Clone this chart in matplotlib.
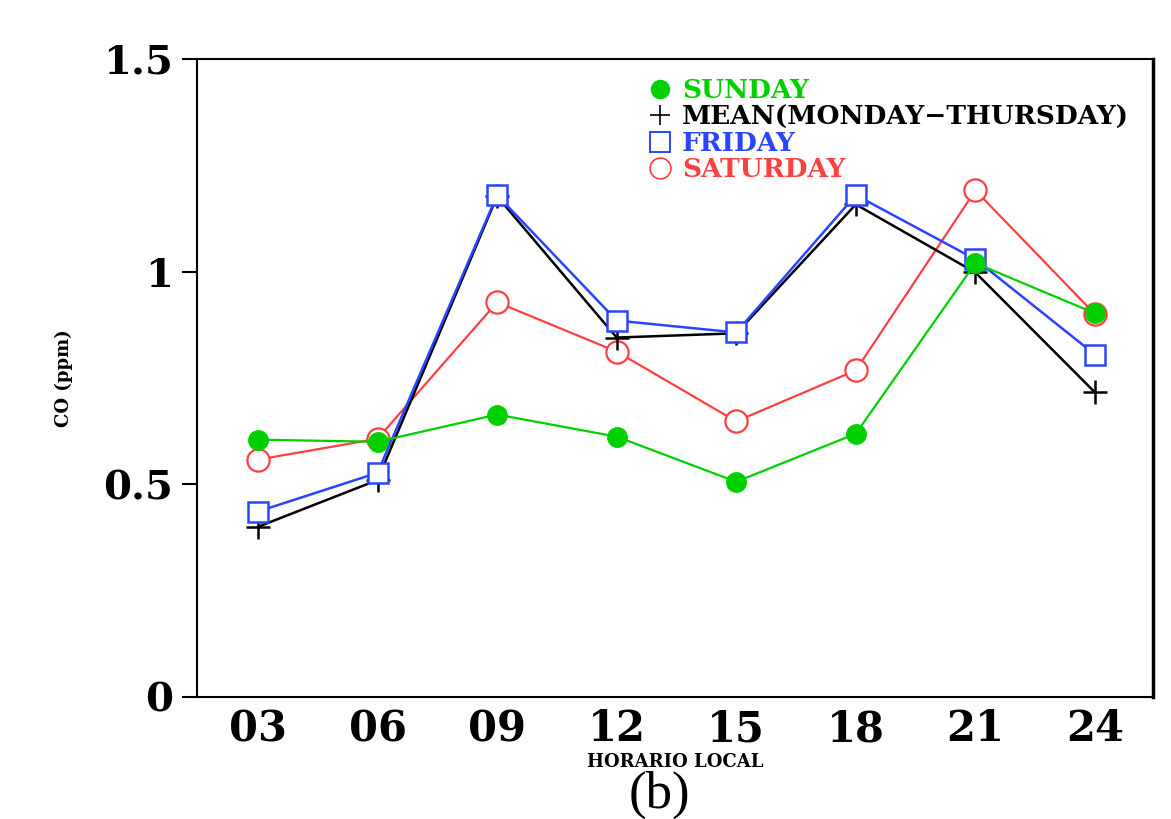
import matplotlib.pyplot as plt
from matplotlib.lines import Line2D

# hours (local time) and CO concentrations in ppm
hours = ["03", "06", "09", "12", "15", "18", "21", "24"]
sunday = [0.605, 0.600, 0.664, 0.612, 0.506, 0.619, 1.020, 0.902]
mean_mon_thu = [0.400, 0.510, 1.177, 0.845, 0.855, 1.158, 0.998, 0.716]
friday = [0.436, 0.527, 1.180, 0.885, 0.857, 1.180, 1.029, 0.805]
saturday = [0.558, 0.607, 0.928, 0.812, 0.648, 0.768, 1.191, 0.900]

GREEN = "#00d000"
BLACK = "#000000"
BLUE = "#2a45ff"
RED = "#ff4040"

fig = plt.figure(figsize=(11.71, 8.19), dpi=100)
ax = fig.add_axes([0.1682, 0.149, 0.8164, 0.779])

x = list(range(len(hours)))

# same draw order as the original: red under, green on top
ax.plot(x, saturday, color=RED, lw=1.6, marker="o", ms=16, mfc="white", mec=RED, mew=1.6, zorder=2)
ax.plot(x, mean_mon_thu, color=BLACK, lw=1.8, marker="+", ms=17, mew=1.8, zorder=3)
ax.plot(x, friday, color=BLUE, lw=1.8, marker="s", ms=15, mfc="white", mec=BLUE, mew=1.8, zorder=4)
ax.plot(x, sunday, color=GREEN, lw=1.6, marker="o", ms=14, mfc=GREEN, mec=GREEN, zorder=5)

ax.set_xlim(-0.51, 7.485)
ax.set_ylim(0, 1.5)
ax.set_xticks(x)
ax.set_xticklabels(hours)
ax.set_yticks([0, 0.5, 1, 1.5])
ax.set_yticklabels(["0", "0.5", "1", "1.5"])

ax.tick_params(axis="x", length=0, pad=8)
ax.tick_params(axis="y", direction="out", length=11, width=1.5, pad=6)
for lab in ax.get_xticklabels():
    lab.set_fontfamily("DejaVu Serif")
    lab.set_fontweight("bold")
    lab.set_fontsize(30)
for lab in ax.get_yticklabels():
    lab.set_fontfamily("DejaVu Serif")
    lab.set_fontweight("semibold")
    lab.set_fontsize(29)

for sp in ax.spines.values():
    sp.set_linewidth(1.5)
ax.spines["right"].set_linewidth(2.5)

ax.set_ylabel("CO (ppm)", fontfamily="DejaVu Serif", fontweight="bold", fontsize=13, labelpad=22)
ax.set_xlabel("HORARIO LOCAL", fontfamily="DejaVu Serif", fontweight="bold", fontsize=13, labelpad=2)

fig.text(0.563, 0.0, "(b)", fontfamily="Liberation Serif", fontsize=38, ha="center", va="bottom")

handles = [
    Line2D([], [], ls="none", marker="o", ms=13, mfc=GREEN, mec=GREEN),
    Line2D([], [], ls="none", marker="+", ms=15, mec=BLACK, mew=1.2),
    Line2D([], [], ls="none", marker="s", ms=14, mfc="white", mec=BLUE, mew=1.4),
    Line2D([], [], ls="none", marker="o", ms=15, mfc="white", mec=RED, mew=1.2),
]
labels = ["SUNDAY", "MEAN(MONDAY\u2212THURSDAY)", "FRIDAY", "SATURDAY"]
leg = ax.legend(handles, labels, loc="upper left", bbox_to_anchor=(0.473, 0.97),
                frameon=False, handlelength=0.8, handletextpad=0.45, labelspacing=0.05,
                borderpad=0, borderaxespad=0,
                prop={"family": "DejaVu Serif", "weight": "bold", "size": 19},
                labelcolor=[GREEN, BLACK, BLUE, RED])

fig.savefig("out.png", dpi=100)
